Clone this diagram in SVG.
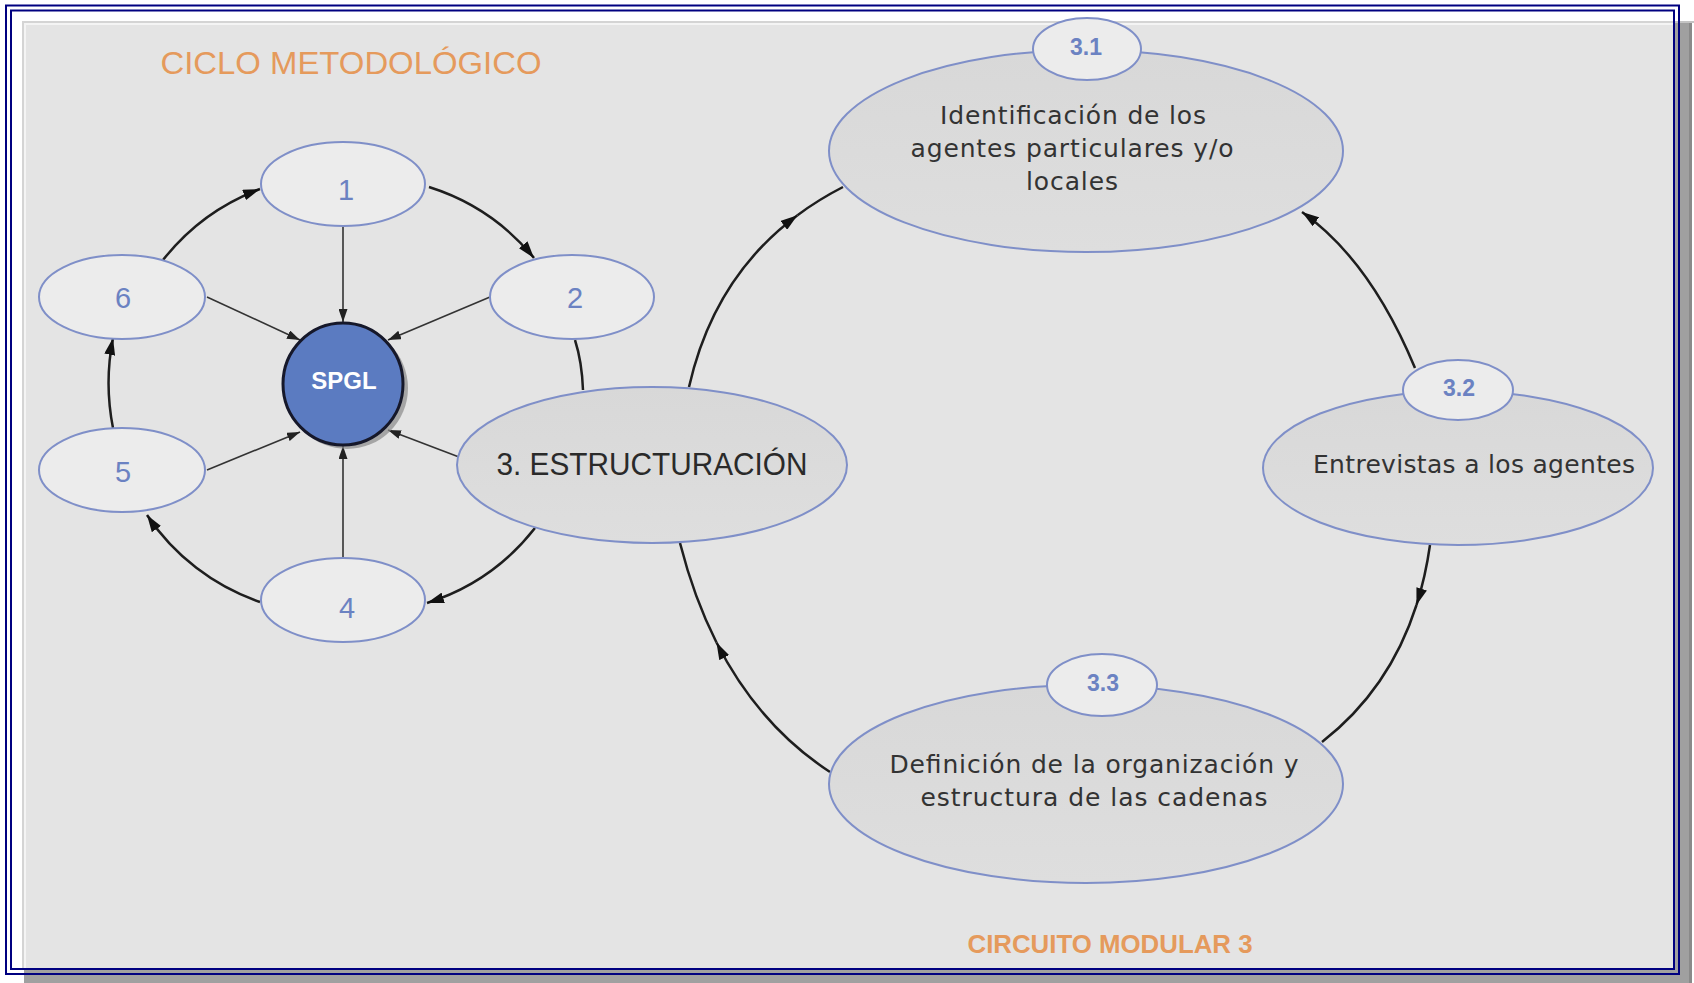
<svg xmlns="http://www.w3.org/2000/svg" width="1694" height="983" viewBox="0 0 1694 983">
<style>
.num{font-family:"Liberation Sans",Arial,sans-serif;font-size:29px;fill:#6b82c2;text-anchor:middle}
.sub{font-family:"Liberation Sans",Arial,sans-serif;font-size:23px;font-weight:bold;fill:#6b82c2;text-anchor:middle}
.body{font-family:"DejaVu Sans",sans-serif;font-size:25px;fill:#333;text-anchor:middle}
.small{fill:#ececec;stroke:#7f8fc8;stroke-width:2}
.big{fill:url(#gg);stroke:#7f8fc8;stroke-width:2}
.arc{fill:none;stroke:#1e1e1e;stroke-width:2.5}
.spoke{fill:none;stroke:#333;stroke-width:1.6}
.orange{font-family:"Liberation Sans",Arial,sans-serif;fill:#e59a5c;text-anchor:middle}
</style>
<defs>
<linearGradient id="gg" x1="0" y1="0" x2="0" y2="1">
<stop offset="0" stop-color="#d8d8d8"/>
<stop offset="1" stop-color="#dedede"/>
</linearGradient>
<marker id="aa" viewBox="0 0 17 11" refX="17" refY="5.5" markerWidth="17" markerHeight="11" markerUnits="userSpaceOnUse" orient="auto">
<path d="M0,0 L17,5.5 L0,11 z" fill="#111"/>
</marker>
<marker id="sa" viewBox="0 0 13 9" refX="13" refY="4.5" markerWidth="13" markerHeight="9" markerUnits="userSpaceOnUse" orient="auto">
<path d="M0,0 L13,4.5 L0,9 z" fill="#222"/>
</marker>
</defs>

<g id="frame">
<rect width="1694" height="983" fill="#ffffff"/>
<rect x="24" y="21" width="1668" height="962" fill="#a0a0a0"/>
<rect x="1689" y="21" width="3" height="962" fill="#8a8a8a"/>
<rect x="24" y="21" width="1670" height="2" fill="#c4c4c4"/>
<rect x="22" y="21" width="1652" height="948" fill="#d4d4d4"/>
<rect x="24" y="23" width="1649" height="945" fill="#f4f4f4"/>
<rect x="26" y="25" width="1647" height="943" fill="#e4e4e4"/>
<rect x="6" y="5.5" width="1673" height="968.5" fill="none" stroke="#000080" stroke-width="2"/>
<rect x="11" y="10.5" width="1663" height="958.5" fill="none" stroke="#000080" stroke-width="2"/>
</g>

<g id="titles">
<text class="orange" x="351" y="74" font-size="32" textLength="381" lengthAdjust="spacingAndGlyphs">CICLO METODOLÓGICO</text>
<text class="orange" x="1110" y="953" font-size="25" font-weight="bold" textLength="285" lengthAdjust="spacingAndGlyphs">CIRCUITO MODULAR 3</text>
</g>

<g id="connectors">
<path class="arc" d="M163,260 A222,222 0 0 1 260,189" marker-end="url(#aa)"/>
<path class="arc" d="M429,187 A222,222 0 0 1 534,258" marker-end="url(#aa)"/>
<path class="arc" d="M575,340 Q582,362 583,390"/>
<path class="arc" d="M535,528 A222,222 0 0 1 427,603" marker-end="url(#aa)"/>
<path class="arc" d="M260,602 A222,222 0 0 1 147,515" marker-end="url(#aa)"/>
<path class="arc" d="M113,428 A232,232 0 0 1 113,338" marker-end="url(#aa)"/>
<path class="spoke" d="M343,227 L343,322" marker-end="url(#sa)"/>
<path class="spoke" d="M207,297 L300,340" marker-end="url(#sa)"/>
<path class="spoke" d="M490,297 L388,340" marker-end="url(#sa)"/>
<path class="spoke" d="M207,470 L300,432" marker-end="url(#sa)"/>
<path class="spoke" d="M459,457 L388,430" marker-end="url(#sa)"/>
<path class="spoke" d="M343,558 L343,446" marker-end="url(#sa)"/>
<path class="arc" d="M689,387 Q713.8,277.4 797.5,215.2" marker-end="url(#aa)"/>
<path class="arc" d="M797.5,215.2 Q818.4,199.6 843,187"/>
<path class="arc" d="M1415,368 Q1370,260 1302,212" marker-end="url(#aa)"/>
<path class="arc" d="M1430,545 Q1425.5,576.75 1416.5,605" marker-end="url(#aa)"/>
<path class="arc" d="M1416.5,605 Q1389.5,689.5 1322,742"/>
<path class="arc" d="M830,772 Q758.5,725.2 716.5,642.5" marker-end="url(#aa)"/>
<path class="arc" d="M716.5,642.5 Q694,598 680,543"/>
</g>

<g id="n1"><ellipse class="small" cx="343" cy="184" rx="82" ry="42"/><text class="num" x="346" y="200">1</text></g>
<g id="n2"><ellipse class="small" cx="572" cy="297" rx="82" ry="42"/><text class="num" x="575" y="308">2</text></g>
<g id="n6"><ellipse class="small" cx="122" cy="297" rx="83" ry="42"/><text class="num" x="123" y="308">6</text></g>
<g id="n5"><ellipse class="small" cx="122" cy="470" rx="83" ry="42"/><text class="num" x="123" y="482">5</text></g>
<g id="n4"><ellipse class="small" cx="343" cy="600" rx="82" ry="42"/><text class="num" x="347" y="618">4</text></g>

<g id="spgl">
<ellipse cx="347" cy="388" rx="61" ry="61" fill="#8a8a8a" opacity="0.7"/>
<ellipse cx="343" cy="384" rx="60" ry="61" fill="#5b7bc1" stroke="#16182a" stroke-width="3"/>
<text x="344" y="389" font-family="Liberation Sans,Arial,sans-serif" font-size="24" font-weight="bold" fill="#ffffff" text-anchor="middle">SPGL</text>
</g>

<g id="n3">
<ellipse class="big" cx="652" cy="465" rx="195" ry="78"/>
<text x="652" y="475" font-family="Liberation Sans,Arial,sans-serif" font-size="31" fill="#2a2a2a" text-anchor="middle" textLength="311" lengthAdjust="spacingAndGlyphs">3. ESTRUCTURACIÓN</text>
</g>

<g id="n31">
<ellipse class="big" cx="1086" cy="151" rx="257" ry="101"/>
<ellipse class="small" cx="1087" cy="49" rx="54" ry="31"/>
<text class="sub" x="1086" y="55">3.1</text>
<text class="body" x="1073" y="124" textLength="266">Identificación de los</text>
<text class="body" x="1072" y="157" textLength="323">agentes particulares y/o</text>
<text class="body" x="1072" y="190" textLength="92">locales</text>
</g>

<g id="n32">
<ellipse class="big" cx="1458" cy="468" rx="195" ry="77"/>
<ellipse class="small" cx="1458" cy="390" rx="55" ry="30"/>
<text class="sub" x="1459" y="396">3.2</text>
<text class="body" x="1474" y="473" textLength="322">Entrevistas a los agentes</text>
</g>

<g id="n33">
<ellipse class="big" cx="1086" cy="784" rx="257" ry="99"/>
<ellipse class="small" cx="1102" cy="685" rx="55" ry="31"/>
<text class="sub" x="1103" y="691">3.3</text>
<text class="body" x="1094" y="773" textLength="409">Definición de la organización y</text>
<text class="body" x="1094" y="806" textLength="347">estructura de las cadenas</text>
</g>
</svg>
